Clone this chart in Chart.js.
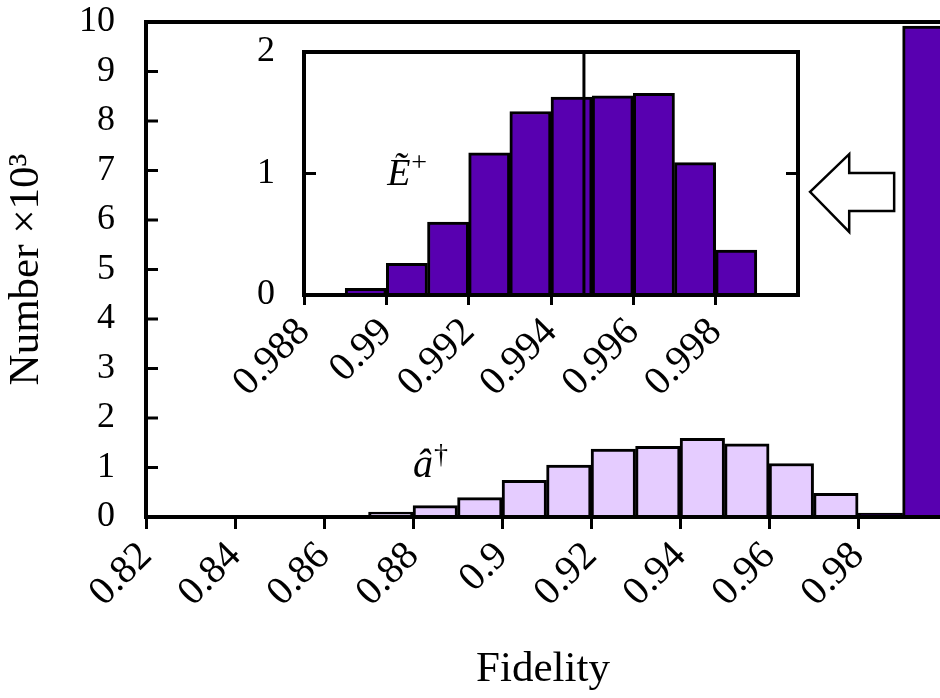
<!DOCTYPE html>
<html>
<head>
<meta charset="utf-8">
<title>Fidelity histogram</title>
<script src="https://cdn.jsdelivr.net/npm/chart.js@4.4.1/dist/chart.umd.min.js"></script>
<style>
  html, body { margin: 0; padding: 0; background: #fff; overflow: hidden; }
  #wrap { position: relative; width: 940px; height: 698px; }
  #mainChart { position: absolute; left: 0; top: 0; }
  #insetChart { position: absolute; left: 200px; top: 20px; }
</style>
</head>
<body>
<div id="wrap">
  <canvas id="mainChart" width="940" height="698"></canvas>
  <canvas id="insetChart" width="620" height="420"></canvas>
</div>
<script>
// Datos del histograma principal (bins de 0.01, cuentas en miles)
const mainBinWidth = 0.01;
const adagBinLeft = [0.82, 0.83, 0.84, 0.85, 0.86, 0.87, 0.88, 0.89, 0.90, 0.91, 0.92, 0.93, 0.94, 0.95, 0.96, 0.97];
const adagCounts = [0.00, 0.00, 0.01, 0.01, 0.03, 0.10, 0.23, 0.39, 0.74, 1.05, 1.37, 1.43, 1.59, 1.48, 1.08, 0.48];
const eplusBinLeft = [0.98, 0.99];
const eplusCounts = [0.08, 9.92];
const mainXTicks = [0.82, 0.84, 0.86, 0.88, 0.90, 0.92, 0.94, 0.96, 0.98];
const mainYTicks = [0, 1, 2, 3, 4, 5, 6, 7, 8, 9, 10];

// Datos del recuadro (zoom de E+, bins de 0.001)
const insetBinWidth = 0.001;
const insetBinLeft = [0.988, 0.989, 0.990, 0.991, 0.992, 0.993, 0.994, 0.995, 0.996, 0.997, 0.998];
const insetCounts = [0.01, 0.055, 0.26, 0.60, 1.17, 1.51, 1.63, 1.64, 1.66, 1.09, 0.37];
const insetXTicks = [0.988, 0.990, 0.992, 0.994, 0.996, 0.998];
const insetYTicks = [0, 1, 2];
const insetMean = 0.9948;

const lightPurple = '#e5ccff';
const darkPurple = '#5800b0';
const serif = "'Liberation Serif', 'DejaVu Serif', serif";
const yTickFont = { family: serif, size: 36 };
const xTickFont = { family: serif, size: 40 };
const titleFont = { family: serif, size: 43 };

function toPoints(lefts, counts, width) {
    return lefts.map((x, i) => ({ x: x + width / 2, y: counts[i] }));
}
function fmt(v) {
    return String(+v.toFixed(3));
}
function hline(ctx, x0, y0, x1, y1) {
    ctx.beginPath();
    ctx.moveTo(x0, y0);
    ctx.lineTo(x1, y1);
    ctx.stroke();
}
// Quitar el relleno que Chart.js añade por las etiquetas
function noPad(s) {
    s.paddingTop = 0;
    s.paddingBottom = 0;
    s.paddingLeft = 0;
    s.paddingRight = 0;
}

// Flecha hueca apuntando al recuadro (en coordenadas de datos)
const arrowShape = { tipX: 0.9692, headX: 0.9780, tailX: 0.9881, tipY: 6.57, headTop: 7.33, headBot: 5.76, shaftTop: 6.95, shaftBot: 6.18 };
const adagLabelPos = { x: 0.880, y: 0.81 };
const eplusLabelPos = { x: 0.99002, y: 0.905 };

const mainDecor = {
    id: 'mainDecor',
    afterDatasetsDraw(chart) {
        const { ctx, chartArea: a, scales: { x, y } } = chart;
        ctx.save();
        ctx.strokeStyle = '#000';
        ctx.lineWidth = 3;
        mainYTicks.forEach(v => {
            const py = y.getPixelForValue(v);
            hline(ctx, a.left, py, a.left + 12, py);
        });
        ctx.lineWidth = 4;
        ctx.beginPath();
        ctx.moveTo(a.right + 2, a.top);
        ctx.lineTo(a.left, a.top);
        ctx.lineTo(a.left, a.bottom);
        ctx.lineTo(a.right + 2, a.bottom);
        ctx.stroke();

        // flecha
        const s = arrowShape;
        ctx.beginPath();
        ctx.moveTo(x.getPixelForValue(s.tipX), y.getPixelForValue(s.tipY));
        ctx.lineTo(x.getPixelForValue(s.headX), y.getPixelForValue(s.headTop));
        ctx.lineTo(x.getPixelForValue(s.headX), y.getPixelForValue(s.shaftTop));
        ctx.lineTo(x.getPixelForValue(s.tailX), y.getPixelForValue(s.shaftTop));
        ctx.lineTo(x.getPixelForValue(s.tailX), y.getPixelForValue(s.shaftBot));
        ctx.lineTo(x.getPixelForValue(s.headX), y.getPixelForValue(s.shaftBot));
        ctx.lineTo(x.getPixelForValue(s.headX), y.getPixelForValue(s.headBot));
        ctx.closePath();
        ctx.fillStyle = '#fff';
        ctx.fill();
        ctx.lineWidth = 2.5;
        ctx.lineJoin = 'miter';
        ctx.stroke();

        // etiqueta a-dagger
        const lx = x.getPixelForValue(adagLabelPos.x);
        const ly = y.getPixelForValue(adagLabelPos.y);
        ctx.fillStyle = '#000';
        ctx.textBaseline = 'alphabetic';
        ctx.textAlign = 'left';
        ctx.font = 'italic 40px ' + serif;
        ctx.fillText('â', lx, ly);
        const w = ctx.measureText('â').width;
        ctx.font = '28px ' + serif;
        ctx.fillText('†', lx + w + 1, ly - 14);
        ctx.restore();
    }
};

const insetDecor = {
    id: 'insetDecor',
    afterDatasetsDraw(chart) {
        const { ctx, chartArea: a, scales: { x, y } } = chart;
        ctx.save();
        ctx.strokeStyle = '#000';
        ctx.lineWidth = 3;
        insetYTicks.forEach(v => {
            const py = y.getPixelForValue(v);
            hline(ctx, a.left, py, a.left + 12, py);
            hline(ctx, a.right, py, a.right - 12, py);
        });
        // línea vertical (media)
        const mx = x.getPixelForValue(insetMean);
        hline(ctx, mx, a.top, mx, a.bottom);
        ctx.lineWidth = 4;
        ctx.strokeRect(a.left, a.top, a.right - a.left, a.bottom - a.top);

        // etiqueta E+
        const lx = x.getPixelForValue(eplusLabelPos.x);
        const ly = y.getPixelForValue(eplusLabelPos.y);
        ctx.fillStyle = '#000';
        ctx.textBaseline = 'alphabetic';
        ctx.textAlign = 'left';
        ctx.font = 'italic 38px ' + serif;
        ctx.fillText('Ẽ', lx, ly);
        const w = ctx.measureText('Ẽ').width;
        ctx.font = '28px ' + serif;
        ctx.fillText('+', lx + w + 1, ly - 14);
        ctx.restore();
    }
};

const barStyle = {
    borderColor: '#000',
    borderWidth: 3,
    borderSkipped: 'start',
    grouped: false,
    barPercentage: 1,
    categoryPercentage: 1,
    clip: 0
};

document.addEventListener('DOMContentLoaded', function () {
    new Chart(document.getElementById('mainChart'), {
        type: 'bar',
        data: {
            datasets: [
                Object.assign({ data: toPoints(adagBinLeft, adagCounts, mainBinWidth), backgroundColor: lightPurple }, barStyle),
                Object.assign({ data: toPoints(eplusBinLeft, eplusCounts, mainBinWidth), backgroundColor: darkPurple }, barStyle)
            ]
        },
        options: {
            responsive: false,
            animation: false,
            events: [],
            layout: { padding: { top: 22, right: 0, left: 0, bottom: 0 } },
            plugins: { legend: { display: false }, tooltip: { enabled: false } },
            scales: {
                x: {
                    type: 'linear',
                    min: 0.82,
                    max: 0.9984,
                    offset: false,
                    afterBuildTicks: s => { s.ticks = mainXTicks.map(v => ({ value: v })); },
                    afterFit: s => { s.height = 181; noPad(s); },
                    grid: { display: true, offset: false, drawOnChartArea: false, drawTicks: true, tickLength: 12, lineWidth: 3, color: '#000' },
                    border: { display: false },
                    ticks: { minRotation: 45, maxRotation: 45, autoSkip: false, padding: 4, color: '#000', font: xTickFont, callback: v => fmt(v) },
                    title: { display: true, text: 'Fidelity', color: '#000', font: titleFont, padding: { top: 0, bottom: 2 } }
                },
                y: {
                    min: 0,
                    max: 10,
                    afterBuildTicks: s => { s.ticks = mainYTicks.map(v => ({ value: v })); },
                    afterFit: s => { s.width = 146; noPad(s); },
                    grid: { display: false, drawTicks: false },
                    border: { display: false },
                    ticks: { padding: 31, color: '#000', font: yTickFont, callback: v => fmt(v) },
                    title: { display: true, text: 'Number ×10³', color: '#000', font: titleFont, padding: { top: 1, bottom: 0 } }
                }
            }
        },
        plugins: [mainDecor]
    });

    new Chart(document.getElementById('insetChart'), {
        type: 'bar',
        data: {
            datasets: [
                Object.assign({ data: toPoints(insetBinLeft, insetCounts, insetBinWidth), backgroundColor: darkPurple }, barStyle)
            ]
        },
        options: {
            responsive: false,
            animation: false,
            events: [],
            layout: { padding: { top: 32, right: 22, left: 0, bottom: 0 } },
            plugins: { legend: { display: false }, tooltip: { enabled: false } },
            scales: {
                x: {
                    type: 'linear',
                    min: 0.988,
                    max: 1.0,
                    offset: false,
                    afterBuildTicks: s => { s.ticks = insetXTicks.map(v => ({ value: v })); },
                    afterFit: s => { s.height = 145; noPad(s); },
                    grid: { display: true, offset: false, drawOnChartArea: false, drawTicks: true, tickLength: 10, lineWidth: 3, color: '#000' },
                    border: { display: false },
                    ticks: { minRotation: 45, maxRotation: 45, autoSkip: false, padding: 4, color: '#000', font: xTickFont, callback: v => fmt(v) }
                },
                y: {
                    min: 0,
                    max: 2,
                    afterBuildTicks: s => { s.ticks = insetYTicks.map(v => ({ value: v })); },
                    afterFit: s => { s.width = 104; noPad(s); },
                    grid: { display: false, drawTicks: false },
                    border: { display: false },
                    ticks: { padding: 29, color: '#000', font: yTickFont, callback: v => fmt(v) }
                }
            }
        },
        plugins: [insetDecor]
    });
});
</script>
</body>
</html>
